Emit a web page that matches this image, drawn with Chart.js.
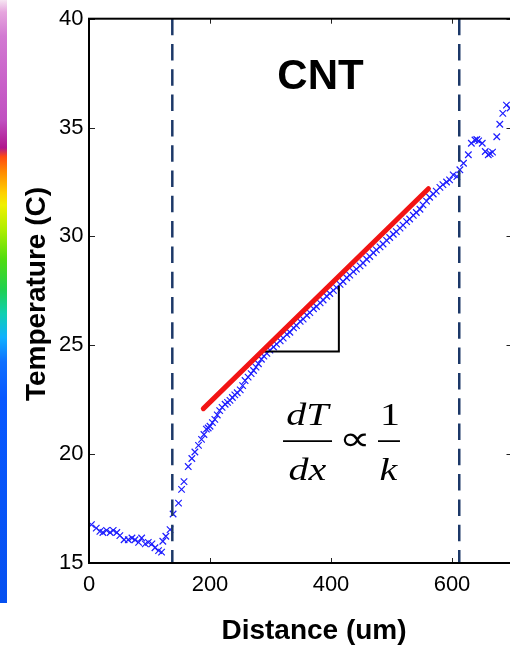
<!DOCTYPE html>
<html><head><meta charset="utf-8">
<script src="https://cdn.jsdelivr.net/npm/chart.js@4.4.1/dist/chart.umd.min.js"></script>
<style>
html,body{margin:0;padding:0;background:#fff;overflow:hidden;width:510px;height:649px;}
#wrap{position:relative;width:510px;height:649px;overflow:hidden;background:#fff;}
#c{position:absolute;left:0;top:0;width:560px;height:649px;}
#bar{position:absolute;left:0;top:0;width:7px;height:603px;z-index:2;
background:linear-gradient(to bottom,#f6e6f2 0%,#e6a6de 2%,#d27ad2 6%,#c860c8 14%,#c050c0 20%,#b0158e 24.5%,#ff4a10 26%,#ff8a00 28.5%,#ffd000 32%,#f0f000 34%,#b0ee00 38%,#50dc10 43%,#20d050 48%,#10d0b0 52%,#10b0ff 56%,#1070ff 60%,#0858ff 66%,#0650f0 100%);}
</style></head>
<body><div id="wrap"><canvas id="c" width="560" height="649"></canvas><div id="bar"></div></div>
<script>
// ---- data ----
const distanceUm = [4,12,18,23,29,35,40,46,51,58,65,71,76,82,87,93,98,104,109,115,120,
  122,127,134,139,148,153,157,164,170,175,181,186,190,194,197,200,204,208,212,216,220,225,229,233,237,241,245,250,254,258,263,268,272,276,280,285,289,294,299,305,310,316,
  321,327,332,338,343,349,354,360,365,371,376,382,387,393,398,404,409,415,420,426,431,437,442,448,453,459,464,470,475,481,486,492,497,503,508,514,519,525,530,536,541,547,552,558,563,569,574,580,585,591,596,
  602,608,613,619,627,632,638,641,644,650,655,660,663,667,674,679,684,690,696];
const temperatureC = [16.76,16.6,16.45,16.4,16.5,16.4,16.5,16.4,16.26,16.07,16.07,16.15,16.07,15.95,16.15,15.88,15.95,15.88,15.7,15.57,15.5,
  16.0,16.23,16.53,17.25,17.75,18.38,18.74,19.43,19.8,20.1,20.4,20.68,20.9,21.15,21.2,21.28,21.45,21.6,21.8,22.0,22.15,22.29,22.38,22.47,22.6,22.72,22.82,22.95,23.15,23.38,23.54,23.7,23.84,24.0,24.15,24.36,24.5,24.63,24.78,24.92,25.05,25.2,
  25.33,25.5,25.6,25.8,25.9,26.1,26.2,26.38,26.5,26.68,26.78,26.95,27.08,27.25,27.38,27.52,27.65,27.8,27.93,28.1,28.22,28.38,28.5,28.65,28.78,28.95,29.08,29.25,29.38,29.52,29.65,29.82,29.95,30.1,30.22,30.38,30.52,30.68,30.8,30.97,31.1,31.25,31.45,31.62,31.8,31.95,32.08,32.25,32.38,32.5,32.6,
  32.83,32.75,33.06,33.36,33.75,34.28,34.43,34.45,34.39,34.28,33.9,33.75,33.8,33.87,34.58,35.15,35.65,36.03,35.9];
const fitLineX = [189, 561];
const fitLineY = [22.09, 32.19];
const triangleX = [283, 413, 413];
const triangleY = [24.71, 24.71, 27.73];
const boundaryX = [137.7, 612];
const xTickValues = [0, 200, 400, 600];
const yTickValues = [15, 20, 25, 30, 35, 40];
const xRange = [0, 700];
const yRange = [15, 40];
const xTitle = 'Distance (um)';
const yTitle = 'Temperature (C)';
const sampleLabel = 'CNT';

const pts = distanceUm.map((x, i) => ({x, y: temperatureC[i]}));
const fitPts = fitLineX.map((x, i) => ({x, y: fitLineY[i]}));
const triPts = triangleX.map((x, i) => ({x, y: triangleY[i]}));
const dash = [16.5, 8.8];
const navy = '#1c3868';

const decor = {
  id: 'decor',
  afterDatasetsDraw(chart) {
    const {ctx, chartArea: a, scales: {x, y}} = chart;
    ctx.save();
    ctx.strokeStyle = '#222'; ctx.lineWidth = 1;
    ctx.beginPath();
    xTickValues.forEach(v => {
      const px = Math.round(x.getPixelForValue(v)) + 0.5;
      ctx.moveTo(px, a.bottom); ctx.lineTo(px, a.bottom - 5);
      ctx.moveTo(px, a.top); ctx.lineTo(px, a.top + 5);
    });
    yTickValues.forEach(v => {
      const py = Math.round(y.getPixelForValue(v)) + 0.5;
      ctx.moveTo(a.left, py); ctx.lineTo(a.left + 6, py);
      ctx.moveTo(a.right, py); ctx.lineTo(a.right - 6, py);
    });
    ctx.stroke();
    ctx.strokeStyle = '#000'; ctx.lineWidth = 2;
    ctx.strokeRect(a.left, a.top, a.right - a.left, a.bottom - a.top);
    ctx.restore();
  },
  afterDraw(chart) {
    const {ctx, scales: {x, y}} = chart;
    const X = v => x.getPixelForValue(v), Y = v => y.getPixelForValue(v);
    ctx.save();
    ctx.fillStyle = '#000';
    ctx.font = 'bold 28px "Liberation Sans", Arial, sans-serif';
    ctx.textAlign = 'center'; ctx.textBaseline = 'middle';
    ctx.fillText(xTitle, 314, 631);
    ctx.save(); ctx.translate(37, 294); ctx.rotate(-Math.PI / 2);
    ctx.fillText(yTitle, 0, 0); ctx.restore();
    ctx.font = 'bold 42px "Liberation Sans", Arial, sans-serif';
    ctx.textBaseline = 'alphabetic';
    ctx.fillText(sampleLabel, X(382.6), Y(36.78));
    const sx = 1.25;
    const txt = (s, cx, by, font) => {
      ctx.save(); ctx.font = font; ctx.translate(cx, by); ctx.scale(sx, 1);
      ctx.textAlign = 'center'; ctx.fillText(s, 0, 0); ctx.restore();
    };
    const it = 'italic 32px "Liberation Serif", "Times New Roman", serif';
    const up = '32px "Liberation Serif", "Times New Roman", serif';
    txt('dT', X(361), Y(21.33), it);
    txt('dx', X(361), Y(18.82), it);
    txt('1', X(497.5), Y(21.33), up);
    txt('k', X(495), Y(18.82), it);
    ctx.save(); ctx.font = '34px "Liberation Serif", "Times New Roman", serif';
    ctx.translate(X(438.8), Y(20.6)); ctx.scale(1.3, 1);
    ctx.textAlign = 'center'; ctx.textBaseline = 'middle'; ctx.fillText('\u221D', 0, 0); ctx.restore();
    ctx.strokeStyle = '#000'; ctx.lineWidth = 1.6;
    ctx.beginPath();
    ctx.moveTo(X(320.7), Y(20.6)); ctx.lineTo(X(401.7), Y(20.6));
    ctx.moveTo(X(477.7), Y(20.6)); ctx.lineTo(X(514), Y(20.6));
    ctx.stroke();
    ctx.restore();
  }
};

new Chart(document.getElementById('c'), {
  type: 'scatter',
  data: {
    datasets: [
      {type: 'line', data: fitPts, borderColor: 'rgb(242,20,20)', borderWidth: 5, pointRadius: 0, borderCapStyle: 'round', order: 0},
      {type: 'line', data: triPts, borderColor: '#000', borderWidth: 2, pointRadius: 0, order: 1},
      {type: 'line', data: [{x: boundaryX[0], y: yRange[1]}, {x: boundaryX[0], y: yRange[0]}], borderColor: navy, borderWidth: 2.5, borderDash: dash, pointRadius: 0, order: 2},
      {type: 'line', data: [{x: boundaryX[1], y: yRange[1]}, {x: boundaryX[1], y: yRange[0]}], borderColor: navy, borderWidth: 2.5, borderDash: dash, pointRadius: 0, order: 2},
      {data: pts, showLine: false, pointStyle: 'crossRot', pointRadius: 4.6, pointBorderWidth: 1.2,
       pointBorderColor: 'rgb(30,30,255)', pointBackgroundColor: 'rgb(30,30,255)', order: 3}
    ]
  },
  options: {
    responsive: false, animation: false, devicePixelRatio: 1,
    layout: {padding: {left: 0, top: 16.5, right: 47.5, bottom: 0}},
    plugins: {legend: {display: false}, tooltip: {enabled: false}},
    scales: {
      x: {
        type: 'linear', min: xRange[0], max: xRange[1],
        grid: {display: false, drawTicks: false}, border: {display: false},
        afterBuildTicks: s => { s.ticks = xTickValues.map(v => ({value: v})); },
        afterFit: s => { s.height = 86; },
        ticks: {color: '#000', padding: 9, font: {family: '"Liberation Sans", Arial, sans-serif', size: 22}}
      },
      y: {
        type: 'linear', min: yRange[0], max: yRange[1],
        grid: {display: false, drawTicks: false}, border: {display: false},
        afterBuildTicks: s => { s.ticks = yTickValues.map(v => ({value: v})); },
        afterFit: s => { s.width = 89; },
        ticks: {color: '#000', padding: 5.5, font: {family: '"Liberation Sans", Arial, sans-serif', size: 22}}
      }
    }
  },
  plugins: [decor]
});
</script>
</body></html>
